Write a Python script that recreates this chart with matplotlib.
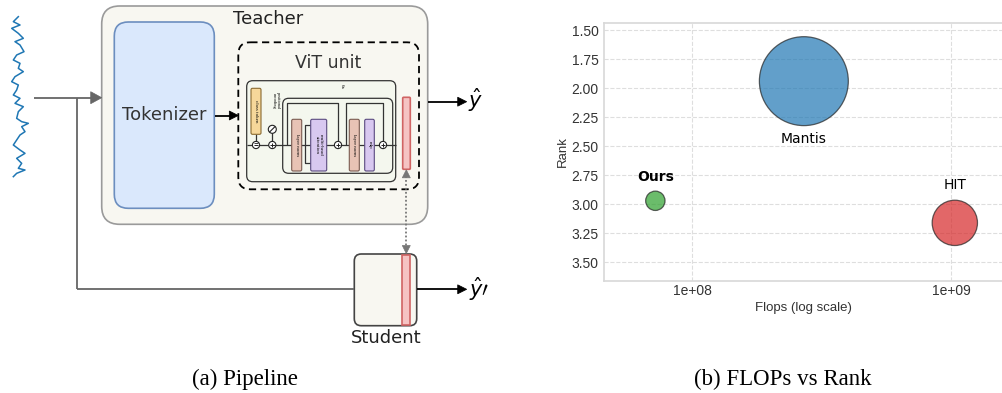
import matplotlib
matplotlib.use("Agg")
import matplotlib.pyplot as plt
from matplotlib.patches import FancyBboxPatch, Rectangle, Circle, Polygon
from matplotlib.ticker import FixedLocator, NullLocator

# ---------------- data (right panel) ----------------
models = ["Ours", "Mantis", "HIT"]
flops = [7.2e7, 2.7e8, 1.035e9]
ranks = [2.97, 1.94, 3.16]
bubble_sizes = [194, 4100, 1064]
colors = ["#2ca02c", "#1f77b4", "#d62728"]
label_weights = ["bold", "normal", "normal"]
rank_ticks = [1.50, 1.75, 2.00, 2.25, 2.50, 2.75, 3.00, 3.25, 3.50]
flop_ticks = [1e8, 1e9]
flop_tick_labels = ["1e+08", "1e+09"]

# decorative input signal (pixel trace of the wavy line)
wave_x = [55, 40, 60, 35, 55, 70, 45, 60, 72, 50, 40, 60, 55, 70, 45, 35, 55, 50, 40, 60,
          45, 70, 55, 50, 65, 85, 65, 75, 60, 50, 40, 60, 75, 50, 65, 55, 75, 50, 40]
wave_y = [20, 35, 45, 55, 70, 85, 95, 105, 125, 135, 150, 160, 175, 185, 200, 215, 225, 240,
          255, 265, 280, 290, 305, 325, 335, 340, 350, 365, 375, 390, 405, 420, 430, 445, 460,
          475, 480, 490, 500]

W, H = 1003, 393
fig = plt.figure(figsize=(W / 100, H / 100), dpi=100)
ax0 = fig.add_axes([0, 0, 1, 1])
ax0.set_xlim(0, W)
ax0.set_ylim(H, 0)
ax0.axis("off")


def rbox(x0, y0, x1, y1, r, fc, ec, lw=1.0, ls="-", z=1):
    p = FancyBboxPatch((x0, y0), x1 - x0, y1 - y0,
                       boxstyle=f"round,pad=0,rounding_size={r}",
                       fc=fc, ec=ec, lw=lw, ls=ls, zorder=z)
    ax0.add_patch(p)


def line(xs, ys, color="#333", lw=0.9, ls="-", z=3):
    ax0.plot(xs, ys, color=color, lw=lw, ls=ls, zorder=z, solid_capstyle="butt")


def head(tip_x, tip_y, direction, size=8, half=4, color="black", z=5):
    if direction == "right":
        pts = [(tip_x - size, tip_y - half), (tip_x, tip_y), (tip_x - size, tip_y + half)]
    elif direction == "up":
        pts = [(tip_x - half, tip_y + size), (tip_x, tip_y), (tip_x + half, tip_y + size)]
    else:
        pts = [(tip_x - half, tip_y - size), (tip_x, tip_y), (tip_x + half, tip_y - size)]
    ax0.add_patch(Polygon(pts, closed=True, fc=color, ec=color, lw=0.5, zorder=z))


# wave
ax0.plot([x / 3 for x in wave_x], [10 + y / 3 for y in wave_y], color="#1f77b4", lw=1.1, zorder=3)

# teacher box
rbox(101.7, 6, 427.7, 224.3, 18, "#f8f7f1", "#9a9a9a", lw=1.2, z=1)
ax0.text(268, 19.5, "Teacher", fontsize=13, ha="center", va="center", color="#222", zorder=6)

# tokenizer
rbox(114.3, 22, 214.3, 208.3, 14, "#dae8fc", "#6c8ebf", lw=1.2, z=2)
ax0.text(164.3, 115.5, "Tokenizer", fontsize=13, ha="center", va="center", color="#333", zorder=6)

# ViT dashed unit
rbox(238.3, 42.3, 419, 189.3, 12, "none", "black", lw=1.3, ls=(0, (4, 2.5)), z=2)
ax0.text(327.7, 62.5, "ViT unit", fontsize=12.5, ha="center", va="center", color="#333", zorder=6)

# inner ViT drawing
rbox(246.7, 80.7, 395.7, 181.7, 6, "#f4f7ee", "#333", lw=0.9, z=2)
rbox(282.7, 98.3, 392.7, 173.3, 6, "none", "#333", lw=0.9, z=3)
line([246.7, 395.7], [145, 145])
line([287.3, 287.3, 338, 338], [145, 103.3, 103.3, 145])
line([345.7, 345.7, 383, 383], [145, 103.3, 103.3, 145])
line([310.7, 305, 305, 310.7], [125, 125, 163, 163])
line([256, 256], [134.3, 145])
line([272.3, 272.3], [129.3, 145])

serif = "Liberation Serif"
rbox(251, 88.3, 261, 134.3, 1.5, "#f6d79a", "#8a6a30", lw=0.8, z=4)
ax0.text(256, 111, "class token", fontsize=3.6, rotation=-90, ha="center", va="center",
         family=serif, zorder=6)
ax0.text(276, 101, "positional\nencoding", fontsize=3.2, rotation=-90, ha="center", va="center",
         family=serif, zorder=6, linespacing=0.9)
ax0.text(341.7, 86, "6x", fontsize=3.6, rotation=-90, ha="center", va="center", family=serif, zorder=6)

for (x0, x1, fc, ec, txt) in [(291.7, 301.7, "#e8c3b5", "#7a5a50", "layer norm"),
                              (310.7, 326.7, "#d8c8f0", "#5a4a80", "multi-head\nattention"),
                              (349.3, 359.3, "#e8c3b5", "#7a5a50", "layer norm"),
                              (364.7, 374.3, "#d8c8f0", "#5a4a80", "mlp")]:
    rbox(x0, 119.3, x1, 171, 1.5, fc, ec, lw=0.8, z=4)
    ax0.text((x0 + x1) / 2, 145, txt, fontsize=3.6, rotation=-90, ha="center", va="center",
             family=serif, zorder=6, linespacing=0.9)

# positional encoding symbol
ax0.add_patch(Circle((272.3, 129.3), 4, fc="white", ec="#222", lw=0.8, zorder=5))
line([269.5, 275.1], [132.1, 126.5], color="#222", lw=0.8, z=6)
# plus / minus circles
for cx, kind in [(256, "minus"), (272.3, "plus"), (338, "plus"), (383, "plus")]:
    ax0.add_patch(Circle((cx, 145), 3.6, fc="white", ec="#222", lw=0.8, zorder=5))
    line([cx - 2.3, cx + 2.3], [145, 145], color="#222", lw=0.7, z=6)
    if kind == "plus":
        line([cx, cx], [142.7, 147.3], color="#222", lw=0.7, z=6)
    else:
        line([cx - 2.3, cx + 2.3], [143.4, 143.4], color="#222", lw=0.6, z=6)

# red feature bar in teacher
rbox(402.7, 97.3, 410.3, 169.3, 1, "#f5c3c3", "#d06464", lw=1.2, z=4)

# student
rbox(354.3, 254, 416.7, 325.7, 7, "#f8f7f1", "#444", lw=1.2, z=2)
ax0.add_patch(Rectangle((402.3, 254.5), 7.7, 70.7, fc="#f5c3c3", ec="#d06464", lw=1.2, zorder=4))
ax0.text(385.7, 338, "Student", fontsize=13, ha="center", va="center", color="#222", zorder=6)

# connections
grey = "#666666"
line([34.3, 92], [97.7, 97.7], color=grey, lw=1.3)
head(101.7, 97.7, "right", size=11, half=6, color=grey)
line([76.7, 76.7], [97.7, 289.3], color=grey, lw=1.3)
line([76.7, 354.3], [289.3, 289.3], color=grey, lw=1.3)

line([215, 230], [115.5, 115.5], color="black", lw=1.3)
head(238.3, 115.5, "right", size=9, half=4.5, color="black")

line([427.7, 458], [101.7, 101.7], color="black", lw=1.3)
head(466.7, 101.7, "right", size=9, half=4.5, color="black")
line([416.7, 458], [289.3, 289.3], color="black", lw=1.3)
head(466.7, 289.3, "right", size=9, half=4.5, color="black")

line([406.3, 406.3], [176, 247], color="#777", lw=1.3, ls=(0, (1, 1.2)))
head(406.3, 169.8, "up", size=8, half=4, color="#777")
head(406.3, 253.5, "down", size=8, half=4, color="#777")

ax0.text(476, 100, r"$\hat{y}$", fontsize=15, ha="center", va="center", zorder=6)
ax0.text(479, 289, r"$\hat{y}\prime$", fontsize=15, ha="center", va="center", zorder=6)

# captions
ax0.text(245, 379, "(a) Pipeline", fontsize=16.5, ha="center", va="center", family=serif)
ax0.text(783, 379, "(b) FLOPs vs Rank", fontsize=16.5, ha="center", va="center", family=serif)

# ---------------- right panel: bubble chart ----------------
ax = fig.add_axes([604.3 / W, 1 - 280.7 / H, 398.4 / W, 257.4 / H])
ax.set_xscale("log")
ax.set_xlim(10 ** 7.66, 10 ** 9.2)
ax.set_ylim(3.658, 1.442)
ax.set_facecolor("white")
ax.grid(True, ls="--", color="#dedede", lw=0.8, zorder=0)
ax.set_axisbelow(True)
for s in ax.spines.values():
    s.set_color("#d8d8d8")
    s.set_linewidth(1.2)

ax.scatter(flops, ranks, s=bubble_sizes, c=colors, alpha=0.7,
           edgecolors="#222222", linewidths=0.9, zorder=3)

label_offsets = {"Ours": 17.3, "Mantis": -42.0, "HIT": 27.1}
for m, fx, rk, w in zip(models, flops, ranks, label_weights):
    ax.annotate(m, (fx, rk), xytext=(0, label_offsets[m]), textcoords="offset points",
                ha="center", va="center", fontsize=10, fontweight=w, color="black", zorder=5)

ax.yaxis.set_major_locator(FixedLocator(rank_ticks))
ax.set_yticklabels([f"{t:.2f}" for t in rank_ticks])
ax.xaxis.set_major_locator(FixedLocator(flop_ticks))
ax.xaxis.set_minor_locator(NullLocator())
ax.set_xticklabels(flop_tick_labels)
ax.tick_params(axis="y", length=0, pad=4, labelsize=10, labelcolor="#333333")
ax.tick_params(axis="x", length=0, pad=2.5, labelsize=10, labelcolor="#333333")
for lab in ax.get_xticklabels() + ax.get_yticklabels():
    lab.set_family("Liberation Sans")
ax.set_xlabel("Flops (log scale)", fontsize=9.5, color="#333333", family="Liberation Sans", labelpad=3)
ax.set_ylabel("Rank", fontsize=9.5, color="#333333", family="Liberation Sans", labelpad=2)

fig.savefig("out.png", dpi=100)
